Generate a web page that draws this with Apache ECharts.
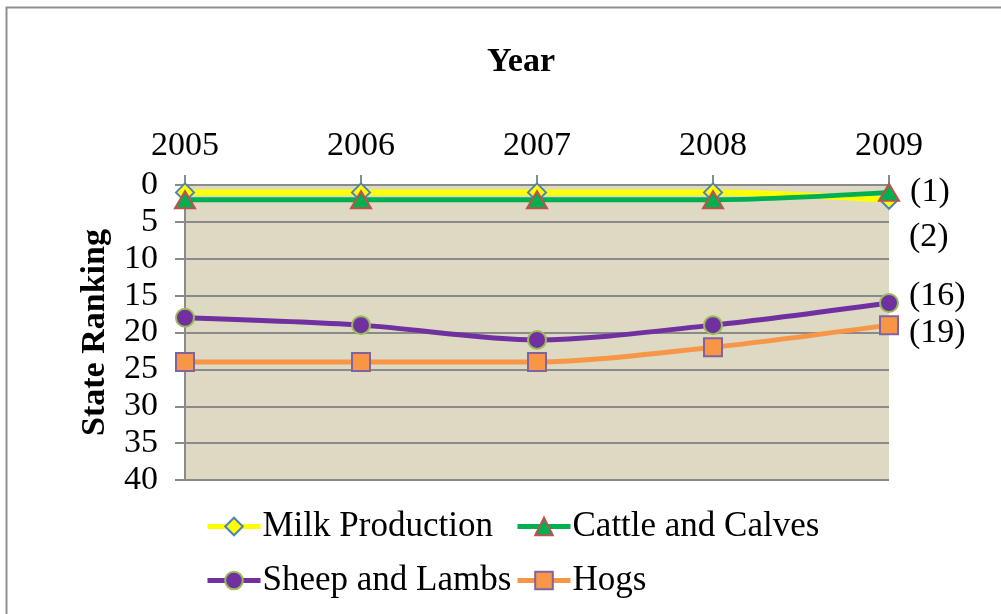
<!DOCTYPE html>
<html>
<head>
<meta charset="utf-8">
<script src="https://cdn.jsdelivr.net/npm/echarts@6/dist/echarts.min.js"></script>
<style>
html,body{margin:0;padding:0;background:#fff;}
#chart{width:1001px;height:614px;}
</style>
</head>
<body>
<div id="chart"></div>
<script>
const years = ['2005', '2006', '2007', '2008', '2009'];
const milkProduction = [1, 1, 1, 1, 2];
const cattleAndCalves = [2, 2, 2, 2, 1];
const sheepAndLambs = [18, 19, 21, 19, 16];
const hogs = [24, 24, 24, 22, 19];
const yTicks = {min: 0, max: 40, interval: 5};

const FONT = '"Liberation Serif", "Times New Roman", serif';

function withEndLabel(values, offsetY) {
  return values.map(function (v, i) {
    if (i === values.length - 1) {
      return {
        value: v,
        label: {
          show: true, position: 'right', distance: 10,
          offset: [0, offsetY],
          formatter: '(' + v + ')',
          fontFamily: FONT, fontSize: 34, color: '#000'
        }
      };
    }
    return v;
  });
}

const chart = echarts.init(document.getElementById('chart'));
chart.setOption({
  animation: false,
  backgroundColor: '#fff',
  graphic: [{
    type: 'rect', left: 4, top: 5, silent: true,
    shape: {width: 1010, height: 620},
    style: {fill: 'none', stroke: '#8f8f8f', lineWidth: 2}
  }],
  grid: {
    left: 185, right: 112, top: 185, bottom: 134,
    show: true, backgroundColor: '#DDD9C3', borderWidth: 0
  },
  legend: [
    {data: ['Milk Production'], left: 205, top: 509},
    {data: ['Cattle and Calves'], left: 515, top: 509},
    {data: ['Sheep and Lambs'], left: 205, top: 563},
    {data: ['Hogs'], left: 515, top: 563}
  ].map(function (l) {
    return Object.assign({
      orient: 'horizontal', itemWidth: 53, itemHeight: 22, itemGap: 0, padding: 0,
      lineStyle: {width: 5},
      textStyle: {fontFamily: FONT, fontSize: 35, color: '#000', padding: [0, 0, 0, -3]}
    }, l);
  }),
  xAxis: {
    type: 'category', data: years, position: 'top', boundaryGap: false,
    name: 'Year', nameLocation: 'middle', nameGap: 106,
    nameTextStyle: {fontFamily: FONT, fontSize: 34, fontWeight: 'bold', color: '#000', padding: [0, 32, 0, 0]},
    axisLine: {show: true, lineStyle: {color: '#8a8a8a', width: 2}},
    axisTick: {show: true, length: 10, lineStyle: {color: '#8a8a8a', width: 2}},
    axisLabel: {fontFamily: FONT, fontSize: 34, color: '#000', margin: 22},
    splitLine: {show: false}
  },
  yAxis: {
    type: 'value', inverse: true,
    min: yTicks.min, max: yTicks.max, interval: yTicks.interval,
    name: 'State Ranking', nameLocation: 'middle', nameGap: 73, nameRotate: 90,
    nameTextStyle: {fontFamily: FONT, fontSize: 34, fontWeight: 'bold', color: '#000'},
    axisLine: {show: true, lineStyle: {color: '#8a8a8a', width: 2}},
    axisTick: {show: true, length: 10, lineStyle: {color: '#8a8a8a', width: 2}},
    axisLabel: {fontFamily: FONT, fontSize: 34, color: '#000', margin: 27},
    splitLine: {show: true, lineStyle: {color: '#8a8a8a', width: 2}}
  },
  series: [
    {
      name: 'Milk Production', type: 'line', smooth: 0.3,
      data: withEndLabel(milkProduction, 37),
      symbol: 'diamond', symbolSize: 18,
      lineStyle: {color: '#FFFF00', width: 6},
      itemStyle: {color: '#FFFF00', borderColor: '#4F81BD', borderWidth: 2}
    },
    {
      name: 'Cattle and Calves', type: 'line', smooth: 0.3,
      data: withEndLabel(cattleAndCalves, 0),
      symbol: 'triangle', symbolSize: [20, 17],
      lineStyle: {color: '#00B050', width: 5},
      itemStyle: {color: '#00B050', borderColor: '#C0504D', borderWidth: 2}
    },
    {
      name: 'Sheep and Lambs', type: 'line', smooth: 0.3,
      data: withEndLabel(sheepAndLambs, -7),
      symbol: 'circle', symbolSize: 18,
      lineStyle: {color: '#7030A0', width: 5},
      itemStyle: {color: '#7030A0', borderColor: '#9BBB59', borderWidth: 2}
    },
    {
      name: 'Hogs', type: 'line', smooth: 0.3,
      data: withEndLabel(hogs, 8),
      symbol: 'rect', symbolSize: 18,
      lineStyle: {color: '#F79646', width: 5},
      itemStyle: {color: '#F79646', borderColor: '#8064A2', borderWidth: 2}
    }
  ]
});
</script>
</body>
</html>
